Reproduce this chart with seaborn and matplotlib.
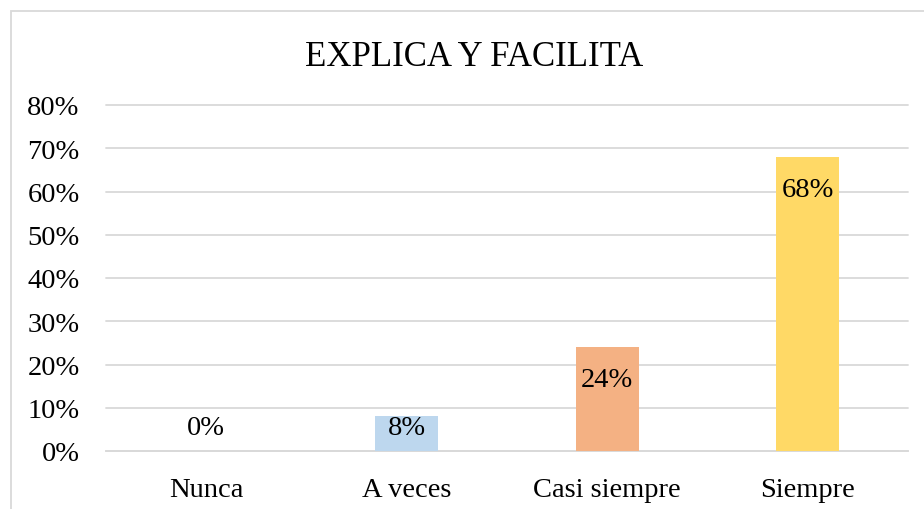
import matplotlib
matplotlib.use("Agg")
import matplotlib.pyplot as plt
import seaborn as sns
import pandas as pd
from matplotlib.patches import Rectangle

categories = ["Nunca", "A veces", "Casi siempre", "Siempre"]
values = [0, 8, 24, 68]
labels = ["0%", "8%", "24%", "68%"]
colors = ["#9DC3E6", "#BDD7EE", "#F4B183", "#FFD966"]
title = "EXPLICA Y FACILITA"
yticks = [0, 10, 20, 30, 40, 50, 60, 70, 80]

sns.set_theme(style="white")
plt.rcParams["font.family"] = ["Liberation Serif", "DejaVu Serif"]

fig = plt.figure(figsize=(9.24, 5.10), dpi=100)
ax = fig.add_axes([106/924, 1-452/510, (908-106)/924, (452-106)/510])

df = pd.DataFrame({"cat": categories, "val": values})
sns.barplot(data=df, x="cat", y="val", hue="cat", palette=colors, width=0.314,
            saturation=1, legend=False, ax=ax, zorder=3, linewidth=0)

ax.set_xlim(-0.5, 3.5)
ax.set_ylim(0, 80)
ax.set_yticks(yticks)
ax.set_yticklabels([f"{t}%" for t in yticks])
ax.grid(axis="y", color="#D9D9D9", linewidth=1.3, zorder=0)
for gl in ax.get_ygridlines():
    gl.set_clip_on(False)
ax.set_axisbelow(True)
for s in ["top", "right", "left"]:
    ax.spines[s].set_visible(False)
ax.spines["bottom"].set_color("#D9D9D9")
ax.spines["bottom"].set_linewidth(1.3)
ax.tick_params(axis="y", length=0, pad=19, labelsize=20.5, labelcolor="black")
ax.tick_params(axis="x", length=0, pad=18.5, labelsize=20.5, labelcolor="black")
ax.set_xlabel("")
ax.set_ylabel("")

for i, (v, lab) in enumerate(zip(values, labels)):
    ax.text(i, max(v - 7.5, 5.4), lab, ha="center", va="center",
            fontsize=20.5, color="black", zorder=4)

fig.text(474/924, 1-58/510, title, ha="center", va="center", fontsize=25, color="black")

fig.patches.append(Rectangle((11/924, -0.1), 1.2, 1-12/510+0.1, transform=fig.transFigure,
                             fill=False, edgecolor="#D9D9D9", linewidth=1.3))

fig.savefig("out.png", dpi=100)
